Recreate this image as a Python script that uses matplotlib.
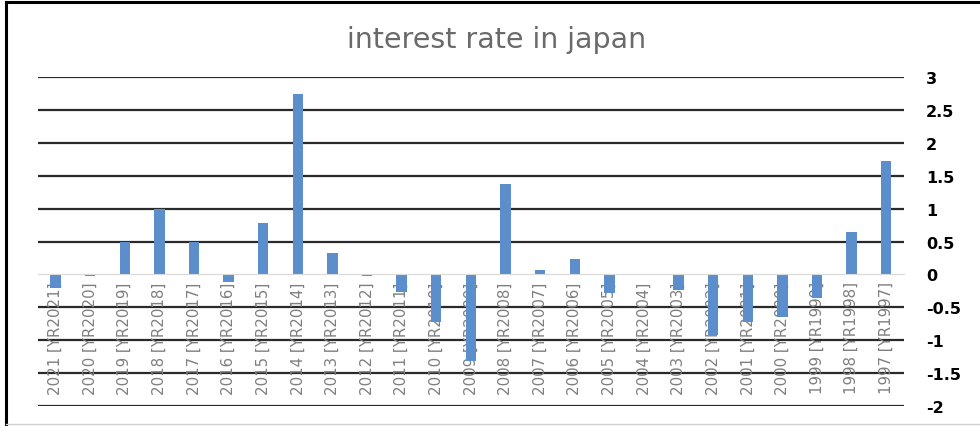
import matplotlib.pyplot as plt
from matplotlib.lines import Line2D

# real interest rate in japan, 2021 back to 1997
years = list(range(2021, 1996, -1))
labels = ["%d [YR%d]" % (y, y) for y in years]
rates = [-0.2, -0.03, 0.49, 1.0, 0.5, -0.12, 0.78, 2.75, 0.33, -0.03,
         -0.26, -0.72, -1.32, 1.37, 0.06, 0.24, -0.29, 0.0, -0.23, -0.92,
         -0.72, -0.64, -0.36, 0.65, 1.72]
yticks = [-2, -1.5, -1, -0.5, 0, 0.5, 1, 1.5, 2, 2.5, 3]

fig = plt.figure(figsize=(9.8, 4.27), dpi=100)
ax = fig.add_axes([0.039, 0.047, 0.883, 0.770])

x = range(len(years))
ax.bar(x, rates, width=0.3, color="#5b8ecb", zorder=2)

ax.set_xlim(-0.5, len(years) - 0.5)
ax.set_ylim(-2, 3)
ax.set_yticks(yticks)
ax.set_yticklabels([("%g" % v) for v in yticks], fontweight="bold",
                   fontsize=11.5, family="DejaVu Sans")
ax.yaxis.tick_right()
ax.tick_params(axis="y", length=0, pad=16)
for v in yticks:
    if v != 0:
        ax.axhline(v, color="#2a2a2a", lw=1.6, zorder=1)

# category labels sit right under the zero line, like excel
ax.spines["bottom"].set_position(("data", 0))
ax.spines["bottom"].set_color("#d9d9d9")
ax.spines["bottom"].set_zorder(3)
for s in ["top", "left", "right"]:
    ax.spines[s].set_visible(False)
ax.set_xticks(list(x))
ax.set_xticklabels(labels, rotation=90, fontsize=10.8, color="#7f7f7f",
                   family="DejaVu Sans")
ax.tick_params(axis="x", length=0, pad=5)
for t in ax.get_xticklabels():
    t.set_zorder(4)

fig.text(0.507, 0.906, "interest rate in japan", ha="center", va="center",
         fontsize=20.5, color="#6a6a6a", family="DejaVu Sans")

# frame round the chart (left and top only show)
fig.add_artist(Line2D([0.0065, 0.0065], [0, 0.992], color="black", lw=2.2))
fig.add_artist(Line2D([0.0065, 1], [0.992, 0.992], color="black", lw=2.2))
fig.add_artist(Line2D([0.0065, 1], [0.004, 0.004], color="#d0d0d0", lw=1))

plt.savefig("out.png", dpi=100)
